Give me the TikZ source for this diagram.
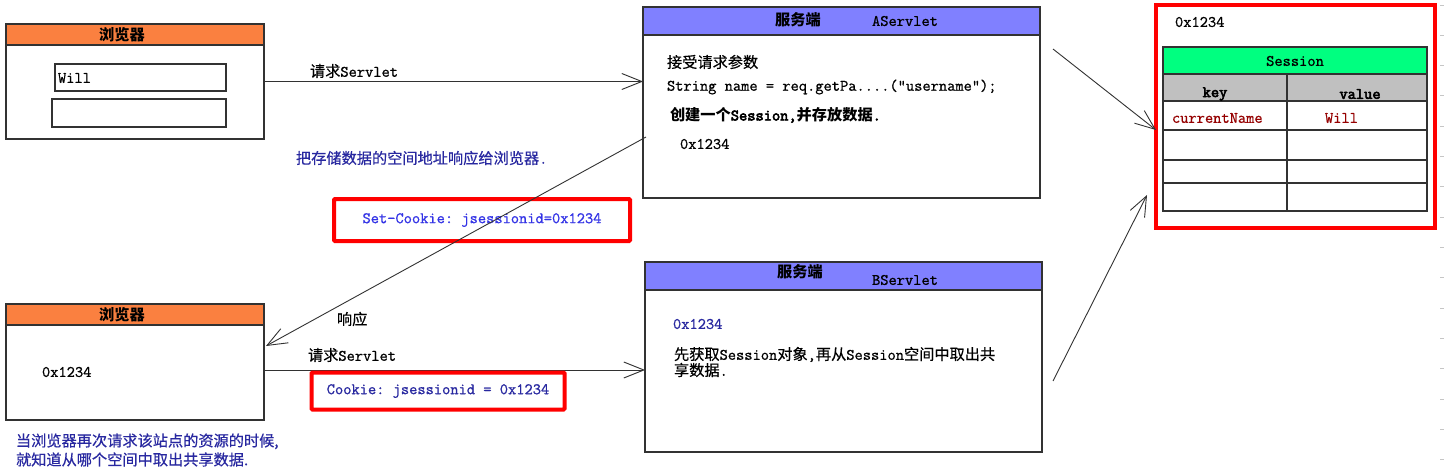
\documentclass[tikz,border=0pt]{standalone}
\usepackage{fontspec}
\usetikzlibrary{arrows.meta,calc}
\setmonofont{Latin Modern Mono}[FakeBold=0.9, BoldFont={Latin Modern Mono}, BoldFeatures={FakeBold=3.5}]
\newfontfamily\cjk[Scale=0.95, UprightFeatures={FakeBold=0.5}]{Noto Sans CJK SC}
\newcommand\zh[1]{{\cjk #1}}
\definecolor{hdrorange}{RGB}{250,128,64}
\definecolor{hdrblue}{RGB}{128,128,255}
\definecolor{hdrgreen}{RGB}{0,255,128}
\definecolor{hdrgray}{RGB}{192,192,192}
\definecolor{navy}{RGB}{40,40,160}
\definecolor{brightblue}{RGB}{50,50,230}
\definecolor{darkred}{RGB}{150,0,0}
\definecolor{edge}{RGB}{50,50,50}
\begin{document}
\begin{tikzpicture}[x=1pt,y=-1pt,
  every node/.style={font=\fontsize{16}{19}\selectfont\ttfamily, inner sep=0pt, outer sep=0pt},
  box/.style={draw=edge, line width=1.6pt, anchor=north west, fill=white},
  hdr/.style={draw=edge, line width=1.6pt, anchor=north west},
  field/.style={draw=edge, line width=1.6pt, anchor=north west},
  lbl/.style={anchor=west},
  redbox/.style={draw=red, line width=4pt, rounded corners=1pt},
  arr/.style={draw=edge, line width=0.9pt, -{Straight Barb[length=20pt,width=16pt]}},
  tickmark/.style={draw=gray!45, line width=0.8pt},
  tbl/.style={draw=edge, line width=1.5pt}
]
\fill[white] (0,0) rectangle (1448,476);
\useasboundingbox (0,0) rectangle (1448,476);

% top browser
\node[box, minimum width=258, minimum height=115] (b1) at (6,24) {};
\node[hdr, fill=hdrorange, minimum width=258, minimum height=21] (b1h) at (6,24) {};
\node (b1t) at (122,35) {\zh{\bfseries 浏览器}};
\node[field, minimum width=171, minimum height=27] (f1) at (55,64) {};
\node[lbl] (f1t) at (58,78) {Will};
\node[field, minimum width=174, minimum height=28] (f2) at (52,99) {};

% AServlet
\node[box, minimum width=397, minimum height=191] (as) at (643,7) {};
\node[hdr, fill=hdrblue, minimum width=397, minimum height=28] (ash) at (643,7) {};
\node (ast1) at (798,20) {\zh{\bfseries 服务端}};
\node (ast2) at (905,21) {AServlet};
\node[lbl] (as1) at (667,62) {\zh{接受请求参数}};
\node[lbl] (as2) at (667,87) {String name = req.getPa....(“username”);};
\node[lbl] (as3) at (670,115) {\bfseries\zh{创建一个}Session,\zh{并存放数据}.};
\node[lbl] (as4) at (680,144) {0x1234};

% lower browser
\node[box, minimum width=258, minimum height=116] (b2) at (6,304) {};
\node[hdr, fill=hdrorange, minimum width=258, minimum height=21] (b2h) at (6,304) {};
\node (b2t) at (122,315) {\zh{\bfseries 浏览器}};
\node[lbl] (b2v) at (42,372) {0x1234};
\node[lbl, align=left, text=navy] (cap) at (16,450) {\zh{当浏览器再次请求该站点的资源的时候,}\\\zh{就知道从哪个空间中取出共享数据.}};

% BServlet
\node[box, minimum width=397, minimum height=190] (bs) at (645,262) {};
\node[hdr, fill=hdrblue, minimum width=397, minimum height=28] (bsh) at (645,262) {};
\node (bst1) at (800,272) {\zh{\bfseries 服务端}};
\node (bst2) at (905,280) {BServlet};
\node[lbl, text=navy] (bs1) at (673,324) {0x1234};
\node[lbl, align=left, font=\fontsize{16}{16}\selectfont\ttfamily] (bs2) at (674,362) {\zh{先获取}Session\zh{对象},\zh{再从}Session\zh{空间中取出共}\\\zh{享数据}.};

% Session
\node[draw=red, line width=4.5pt, anchor=north west, minimum width=279, minimum height=223] (se) at (1156,5) {};
\node[lbl] (sea) at (1175,22) {0x1234};
\fill[hdrgreen] (1163,47) rectangle (1427,74);
\fill[hdrgray] (1163,74) rectangle (1427,101);
\draw[tbl] (1163,47) rectangle (1427,211);
\foreach \yy in {74,101,130,160,183} \draw[tbl] (1163,\yy) -- (1427,\yy);
\draw[tbl] (1287,74) -- (1287,211);
\node (sh) at (1295,61) {Session};
\node (sk) at (1215,94) {\bfseries key};
\node (sv) at (1360,94) {\bfseries value};
\node[lbl, text=darkred] (sk1) at (1172,118) {currentName};
\node[lbl, text=darkred] (sv1) at (1325,118) {Will};

% first request
\draw[arr] (b1.east) -- (b1.east -| as.west);
\node[lbl] (req1) at (310,71) {\zh{请求}Servlet};
\node[lbl, text=navy] (info) at (296,158) {\zh{把存储数据的空间地址响应给浏览器}.};
\node[redbox, minimum width=296, minimum height=42, text=brightblue] (sc) at (482,220) {Set-Cookie: jsessionid=0x1234};

% response
\coordinate (rs) at (646,137);
\coordinate (re) at (266,346);
\draw[arr] (rs) -- (re);
\node[lbl] (resp) at (337,319) {\zh{响应}};

% second request
\coordinate (q2s) at (264,370);
\draw[arr] (q2s) -- (q2s -| bs.west);
\node[lbl] (req2) at (308,355) {\zh{请求}Servlet};
\node[redbox, minimum width=253, minimum height=37, text=navy] (ck) at (438,391) {Cookie: jsessionid = 0x1234};

% to session
\coordinate (a1) at (1053,49);
\coordinate (a1e) at (1153,130);
\draw[arr] (a1) -- (se.west |- a1e);
\coordinate (b1s) at (1053,381);
\coordinate (b1e) at (1147,195);
\draw[arr] (b1s) -- (b1e);

% grid ticks on the right edge
\foreach \k in {0,...,15} \draw[tickmark] (1440,{5+30.3*\k}) -- (1444,{5+30.3*\k});
\end{tikzpicture}
\end{document}
